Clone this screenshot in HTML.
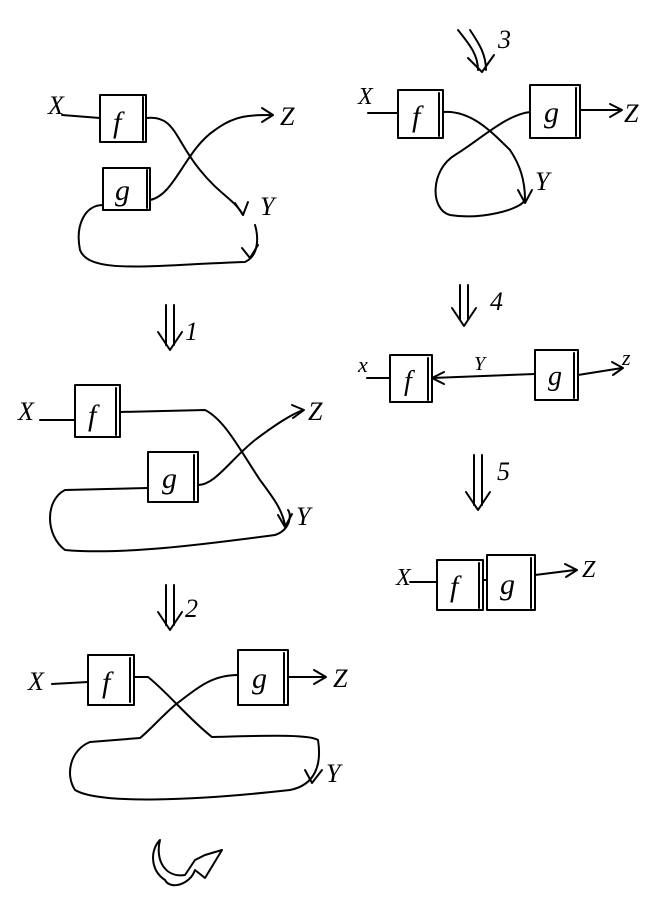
<!DOCTYPE html>
<html><head><meta charset="utf-8"><style>
html,body{margin:0;padding:0;background:#fff;}
svg{display:block;}
text{font-family:"Liberation Serif",serif;fill:#000;}
</style></head><body>
<svg width="668" height="899" viewBox="0 0 668 899" xmlns="http://www.w3.org/2000/svg">
<g fill="none" stroke="#000" stroke-width="2" stroke-linecap="round" stroke-linejoin="round">
<!-- Diagram 1 -->
<path d="M62,115 L100,118"/>
<rect x="100" y="95" width="46" height="47"/><path d="M143,97 L143,140"/>
<rect x="103" y="168" width="47" height="42"/><path d="M147,170 L147,208"/>
<path d="M147,118 C175,115 175,140 200,170 C220,195 235,200 243,215"/>
<path d="M235,203 L243,215 L248,202"/>
<path d="M150,200 C175,195 185,150 215,130 C235,115 250,115 272,115"/>
<path d="M262,108 L273,115 L262,122"/>
<path d="M103,205 C85,205 75,225 80,250 C90,275 150,265 245,262 C260,255 258,235 255,225"/>
<path d="M242,248 L250,258 L258,245"/>
<!-- arrow 1 -->
<path d="M166,305 L166,345 M174,305 L174,345 M158,332 L170,350 L182,332"/>
<!-- Diagram 2 -->
<path d="M40,420 L75,420"/>
<rect x="75" y="385" width="45" height="52"/><path d="M116,388 L116,435"/>
<rect x="148" y="452" width="50" height="50"/><path d="M194,455 L194,500"/>
<path d="M120,412 L205,410 C225,420 240,450 260,480 C275,500 282,510 285,525"/>
<path d="M278,515 L285,527 L292,514"/>
<path d="M198,485 C215,485 230,460 255,440 C275,425 290,415 303,410"/>
<path d="M292,405 L304,410 L293,418"/>
<path d="M148,488 L65,490 C45,500 45,535 65,550 C120,555 200,545 275,535 C290,530 292,515 288,510"/>
<!-- arrow 2 -->
<path d="M166,585 L166,625 M174,585 L174,625 M158,612 L170,630 L182,612"/>
<!-- Diagram 3 -->
<path d="M52,684 L88,682"/>
<rect x="88" y="655" width="46" height="50"/><path d="M130,658 L130,702"/>
<rect x="238" y="650" width="50" height="55"/><path d="M284,653 L284,703"/>
<path d="M288,677 L325,677 M314,670 L326,677 L314,684"/>
<path d="M134,677 L148,677 C165,690 190,720 212,737"/>
<path d="M238,675 C210,675 195,690 175,705 C160,718 150,730 140,738"/>
<path d="M140,738 L90,742 C70,750 65,775 75,790 C100,805 200,800 290,790 C315,785 322,765 318,740 C310,735 280,735 212,737"/>
<path d="M305,770 L312,783 L322,770"/>
<!-- curly arrow bottom -->
<path d="M160,840 C155,860 165,878 185,875 L195,860 L205,855 L222,850 L205,878 L195,870 C190,885 170,890 165,880 C150,870 150,850 160,840 Z"/>
<!-- arrow 3 (top right) -->
<path d="M458,30 C470,45 478,55 478,70 M470,30 C480,45 486,55 486,70 M468,58 L482,72 L494,55"/>
<!-- Diagram 4 (right top) -->
<path d="M368,113 L398,113"/>
<rect x="398" y="90" width="45" height="48"/><path d="M439,93 L439,136"/>
<rect x="530" y="85" width="50" height="53"/><path d="M576,88 L576,136"/>
<path d="M580,110 L620,110 M610,104 L622,110 L610,117"/>
<path d="M443,112 C470,110 490,130 510,150 C520,165 525,180 525,200"/>
<path d="M518,190 L525,203 L532,190"/>
<path d="M530,112 C505,115 480,140 455,155 C430,170 430,210 450,215 C480,220 520,210 525,200"/>
<!-- arrow 4 -->
<path d="M460,285 L460,320 M468,285 L468,320 M452,308 L464,326 L476,308"/>
<!-- Diagram 5 -->
<path d="M367,378 L390,378"/>
<rect x="390" y="355" width="42" height="47"/><path d="M428,358 L428,400"/>
<path d="M432,378 L535,374 M444,372 L432,378 L444,384"/>
<rect x="535" y="350" width="43" height="50"/><path d="M574,353 L574,398"/>
<path d="M578,375 L622,368 M612,362 L623,368 L613,375"/>
<!-- arrow 5 -->
<path d="M474,455 L474,505 M482,455 L482,505 M466,492 L478,510 L490,492"/>
<!-- Diagram 6 -->
<path d="M410,582 L437,582"/>
<rect x="437" y="560" width="46" height="50"/><path d="M479,563 L479,608"/>
<rect x="487" y="555" width="48" height="55"/><path d="M531,558 L531,608"/>
<path d="M483,580 L487,580"/>
<path d="M535,575 L575,570 M565,564 L577,570 L566,577"/>
</g>
<g font-style="italic">
<text x="48" y="114" font-size="26">X</text>
<text x="113" y="132" font-size="30">f</text>
<text x="115" y="200" font-size="30">g</text>
<text x="280" y="125" font-size="26">Z</text>
<text x="260" y="215" font-size="26">Y</text>
<text x="185" y="340" font-size="26">1</text>
<text x="18" y="420" font-size="26">X</text>
<text x="88" y="425" font-size="30">f</text>
<text x="162" y="488" font-size="30">g</text>
<text x="308" y="420" font-size="26">Z</text>
<text x="296" y="525" font-size="26">Y</text>
<text x="185" y="617" font-size="26">2</text>
<text x="28" y="690" font-size="26">X</text>
<text x="102" y="692" font-size="30">f</text>
<text x="252" y="688" font-size="30">g</text>
<text x="333" y="687" font-size="26">Z</text>
<text x="326" y="782" font-size="26">Y</text>
<text x="498" y="48" font-size="26">3</text>
<text x="358" y="104" font-size="24">X</text>
<text x="412" y="126" font-size="30">f</text>
<text x="544" y="122" font-size="30">g</text>
<text x="624" y="122" font-size="26">Z</text>
<text x="535" y="190" font-size="26">Y</text>
<text x="490" y="310" font-size="26">4</text>
<text x="358" y="372" font-size="22">x</text>
<text x="404" y="390" font-size="28">f</text>
<text x="474" y="370" font-size="20">Y</text>
<text x="548" y="385" font-size="28">g</text>
<text x="622" y="365" font-size="22">z</text>
<text x="497" y="480" font-size="26">5</text>
<text x="396" y="585" font-size="24">X</text>
<text x="450" y="596" font-size="30">f</text>
<text x="500" y="594" font-size="30">g</text>
<text x="582" y="577" font-size="24">Z</text>
</g>
</svg>
</body></html>
